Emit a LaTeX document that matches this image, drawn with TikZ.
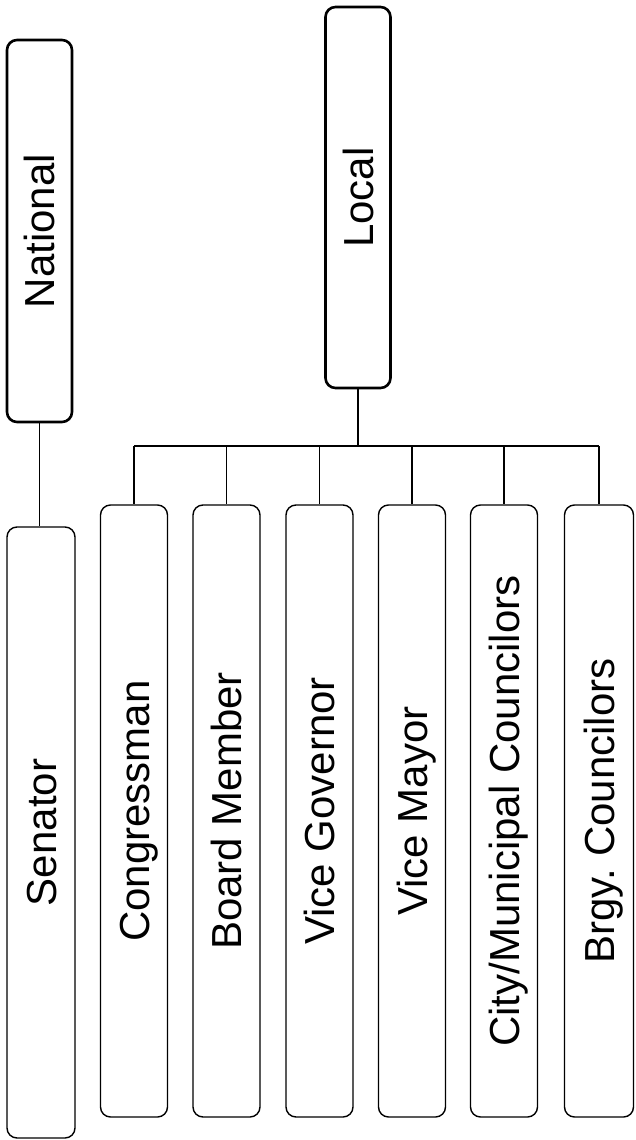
\documentclass[tikz,border=0pt]{standalone}
\usepackage{fontspec}
\setmainfont{Liberation Sans}
\usepackage{graphicx}
\frenchspacing
\newcommand{\vtext}[1]{\rotatebox{90}{\smash{\raisebox{-15pt}{#1}}}}
\begin{document}
\begin{tikzpicture}[x=1pt,y=-1pt,
  headbox/.style={draw, line width=2.6pt, rounded corners=10pt, inner sep=0pt,
    minimum width=65pt, font=\fontsize{42}{50}\selectfont},
  posbox/.style={draw, line width=1.4pt, rounded corners=10pt, inner sep=0pt,
    minimum width=67pt, minimum height=612pt, font=\fontsize{42}{50}\selectfont},
  conn/.style={draw, line width=1.3pt}]
\useasboundingbox (0,0) rectangle (636,1140);

\node[headbox, minimum height=382pt] (nat) at (39.5,231) {\vtext{National}};
\node[headbox, minimum height=381pt] (loc) at (358,197.5) {\vtext{Local}};

\node[posbox, minimum width=68pt, minimum height=611pt] (sen) at (41,832.5) {\vtext{Senator}};
\node[posbox] (c1) at (134,811) {\vtext{Congressman}};
\node[posbox] (c2) at (226.5,811) {\vtext{Board Member}};
\node[posbox] (c3) at (319.5,811) {\vtext{Vice Governor}};
\node[posbox] (c4) at (412,811) {\vtext{Vice Mayor}};
\node[posbox] (c5) at (504,811) {\vtext{City/Municipal Councilors}};
\node[posbox, minimum width=69pt] (c6) at (599,811) {\vtext{Brgy.\ Councilors}};

\coordinate (bus) at (358,446);
\draw[conn] (nat.south) -- (nat.south |- sen.north);
\draw[conn] (loc.south) -- (bus);
\draw[conn] (c1.north |- bus) -- (c6.north |- bus);
\foreach \n in {c1,c2,c3,c4,c5,c6}
  \draw[conn] (\n.north |- bus) -- (\n.north);
\end{tikzpicture}
\end{document}
